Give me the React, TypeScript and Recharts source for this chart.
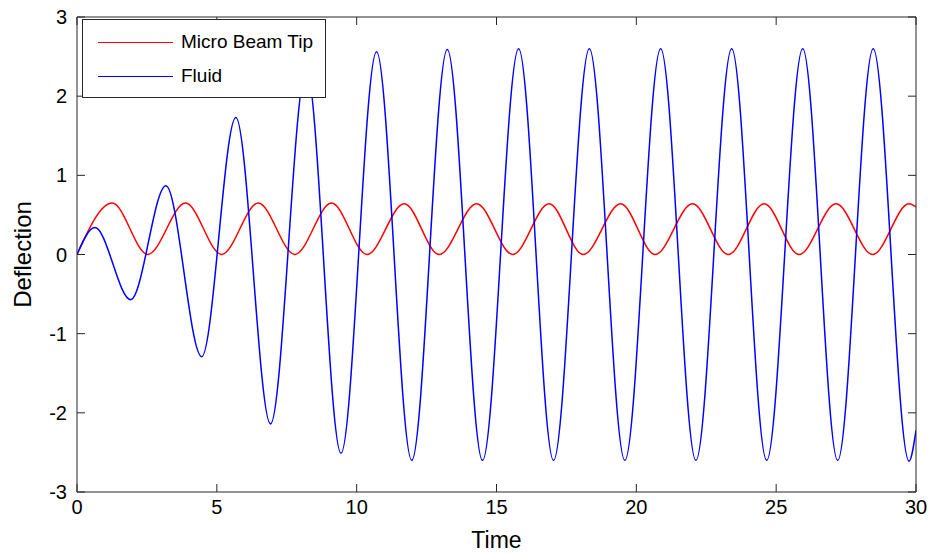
import { LineChart, Line, XAxis, YAxis, Legend } from "recharts";

// axis ticks
const timeTicks = [0, 5, 10, 15, 20, 25, 30];
const deflectionTicks = [-3, -2, -1, 0, 1, 2, 3];

// legend order as in the figure
const seriesNames = ["Micro Beam Tip", "Fluid"];

// micro beam tip: turning points
const beamTime = [
  0, 1.26, 2.53, 3.88, 5.17, 6.48, 7.79, 9.1, 10.37, 11.7, 12.95, 14.29, 15.58,
  16.88, 18.1, 19.44, 20.67, 22.01, 23.29, 24.57, 25.82, 27.14, 28.45, 29.75, 30,
];
const beamDeflection = [
  0, 0.65, 0, 0.65, 0, 0.65, 0, 0.65, 0, 0.64, 0, 0.64, 0, 0.64, 0, 0.64, 0,
  0.64, 0, 0.64, 0, 0.64, 0, 0.64, 0.6,
];

// fluid: turning points
const fluidTime = [
  0, 0.64, 1.92, 3.18, 4.46, 5.68, 6.92, 8.2, 9.44, 10.71, 11.97, 13.24, 14.5,
  15.79, 17.04, 18.32, 19.59, 20.87, 22.13, 23.41, 24.66, 25.95, 27.2, 28.47,
  29.75, 30,
];
const fluidDeflection = [
  0, 0.34, -0.57, 0.87, -1.29, 1.73, -2.14, 2.35, -2.51, 2.56, -2.6, 2.59, -2.6,
  2.6, -2.6, 2.6, -2.6, 2.6, -2.6, 2.6, -2.6, 2.6, -2.6, 2.6, -2.61, -2.22,
];

const beamData = beamTime.map((t, i) => ({ t, v: beamDeflection[i] }));
const fluidData = fluidTime.map((t, i) => ({ t, v: fluidDeflection[i] }));

const FONT = '"Liberation Sans", Arial, sans-serif';
const AXIS = "#262626";

function LegendBox({ payload }: any) {
  const items = [...(payload || [])].sort(
    (a: any, b: any) => seriesNames.indexOf(a.value) - seriesNames.indexOf(b.value)
  );
  return (
    <div
      style={{
        width: 244,
        height: 79,
        boxSizing: "border-box",
        border: `1px solid ${AXIS}`,
        background: "#fff",
        paddingTop: 5,
        fontFamily: FONT,
        fontSize: 19,
        color: "#000",
      }}
    >
      {items.map((p: any) => (
        <div
          key={p.value}
          style={{ height: 34, display: "flex", alignItems: "center" }}
        >
          <div
            style={{
              marginLeft: 15,
              width: 75,
              height: 0,
              borderTop: `1px solid ${p.color}`,
            }}
          />
          <span style={{ marginLeft: 8, lineHeight: "34px" }}>{p.value}</span>
        </div>
      ))}
    </div>
  );
}

export default function App() {
  return (
    <div
      style={{
        position: "absolute",
        left: 0,
        top: 0,
        width: 933,
        height: 553,
        background: "#fff",
        fontFamily: FONT,
      }}
    >
      <LineChart
        width={933}
        height={553}
        margin={{ top: 16, right: 16, bottom: 0, left: 0 }}
      >
        <XAxis
          xAxisId="b"
          type="number"
          dataKey="t"
          domain={[0, 30]}
          ticks={timeTicks}
          allowDataOverflow
          height={61}
          tickSize={-8}
          tickMargin={16}
          stroke={AXIS}
          tick={{ fill: "#000", fontSize: 20, fontFamily: FONT }}
          label={{
            value: "Time",
            position: "insideBottom",
            offset: 5,
            fill: "#000",
            fontSize: 23,
            fontFamily: FONT,
          }}
        />
        <XAxis
          xAxisId="t"
          type="number"
          dataKey="t"
          orientation="top"
          domain={[0, 30]}
          ticks={timeTicks}
          allowDataOverflow
          height={1}
          tickSize={-8}
          stroke={AXIS}
          tickFormatter={() => ""}
        />
        <YAxis
          yAxisId="l"
          type="number"
          domain={[-3, 3]}
          ticks={deflectionTicks}
          allowDataOverflow
          width={77}
          tickSize={-8}
          tickMargin={18}
          stroke={AXIS}
          tick={{ fill: "#000", fontSize: 20, fontFamily: FONT }}
          label={{
            value: "Deflection",
            angle: -90,
            position: "center",
            dx: -16,
            fill: "#000",
            fontSize: 24,
            fontFamily: FONT,
          }}
        />
        <YAxis
          yAxisId="r"
          type="number"
          orientation="right"
          domain={[-3, 3]}
          ticks={deflectionTicks}
          allowDataOverflow
          width={1}
          tickSize={-8}
          stroke={AXIS}
          tickFormatter={() => ""}
        />
        <Legend
          layout="vertical"
          align="center"
          verticalAlign="middle"
          wrapperStyle={{ left: 82, top: 19, width: 244, height: 79 }}
          content={(props: any) => <LegendBox payload={props.payload} />}
        />
        <Line
          xAxisId="b"
          yAxisId="l"
          data={beamData}
          dataKey="v"
          name="Micro Beam Tip"
          type="monotone"
          stroke="#ff0000"
          strokeWidth={1.5}
          dot={false}
          isAnimationActive={false}
        />
        <Line
          xAxisId="b"
          yAxisId="l"
          data={fluidData}
          dataKey="v"
          name="Fluid"
          type="monotone"
          stroke="#0000ff"
          strokeWidth={1.5}
          dot={false}
          isAnimationActive={false}
        />
      </LineChart>
    </div>
  );
}
